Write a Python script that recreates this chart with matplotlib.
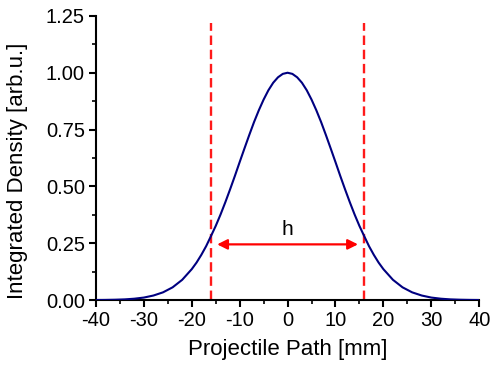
import matplotlib.pyplot as plt
from matplotlib.ticker import MultipleLocator

plt.rcParams['font.family'] = ['Liberation Sans', 'DejaVu Sans']
plt.rcParams['axes.unicode_minus'] = False

# integrated density profile along the projectile path
path_mm = [-40, -38, -36, -34, -32, -30, -28, -26, -24, -22,
           -20, -19, -18, -17, -16, -15, -14, -13, -12, -11,
           -10, -9, -8, -7, -6, -5, -4, -3, -2, -1, 0,
           1, 2, 3, 4, 5, 6, 7, 8, 9, 10,
           11, 12, 13, 14, 15, 16, 17, 18, 19, 20,
           22, 24, 26, 28, 30, 32, 34, 36, 38, 40]
density = [0.0003, 0.0007, 0.0015, 0.003, 0.006, 0.011, 0.020, 0.034, 0.056, 0.089,
           0.136, 0.165, 0.199, 0.237, 0.281, 0.326, 0.376, 0.430, 0.487, 0.546,
           0.607, 0.667, 0.726, 0.783, 0.835, 0.882, 0.923, 0.956, 0.980, 0.995, 1.000,
           0.995, 0.980, 0.956, 0.923, 0.882, 0.835, 0.783, 0.726, 0.667, 0.607,
           0.546, 0.487, 0.430, 0.376, 0.326, 0.281, 0.237, 0.199, 0.165, 0.136,
           0.089, 0.056, 0.034, 0.020, 0.011, 0.006, 0.003, 0.0015, 0.0007, 0.0003]

# width markers and the arrow between them
edges = [-16, 16]
edge_top = 1.22
arrow_y = 0.245
arrow_x = [-14.7, 14.7]

fig = plt.figure(figsize=(4.92, 3.70), dpi=100)
ax = fig.add_axes([0.195, 0.189, 0.779, 0.768])

ax.plot(path_mm, density, color='#000080', lw=1.5, zorder=3)

for x in edges:
    ax.plot([x, x], [0, edge_top], color='#ff1a1a', lw=1.7,
            dashes=(4.0, 2.0), zorder=2)

ax.annotate('', xy=(arrow_x[1], arrow_y), xytext=(arrow_x[0], arrow_y),
            arrowprops=dict(arrowstyle='<|-|>', color='#ff0000', lw=1.6,
                            mutation_scale=15, shrinkA=0, shrinkB=0))
ax.text(0, arrow_y + 0.022, 'h', ha='center', va='bottom', fontsize=15)

ax.set_xlim(-40, 40)
ax.set_ylim(0, 1.25)
ax.xaxis.set_major_locator(MultipleLocator(10))
ax.xaxis.set_minor_locator(MultipleLocator(5))
ax.yaxis.set_major_locator(MultipleLocator(0.25))
ax.yaxis.set_minor_locator(MultipleLocator(0.125))
ax.yaxis.set_major_formatter(plt.FormatStrFormatter('%.2f'))

for side in ['top', 'right']:
    ax.spines[side].set_visible(False)
for side in ['left', 'bottom']:
    ax.spines[side].set_linewidth(1.5)

ax.tick_params(which='major', direction='out', length=5, width=1.5,
               labelsize=14.5, pad=3)
ax.tick_params(which='minor', direction='out', length=3, width=1.2)

ax.set_xlabel('Projectile Path [mm]', fontsize=16, labelpad=6)
ax.set_ylabel('Integrated Density [arb.u.]', fontsize=16)
ax.yaxis.set_label_coords(-0.176, 0.454)

fig.savefig('out.png', dpi=100)
